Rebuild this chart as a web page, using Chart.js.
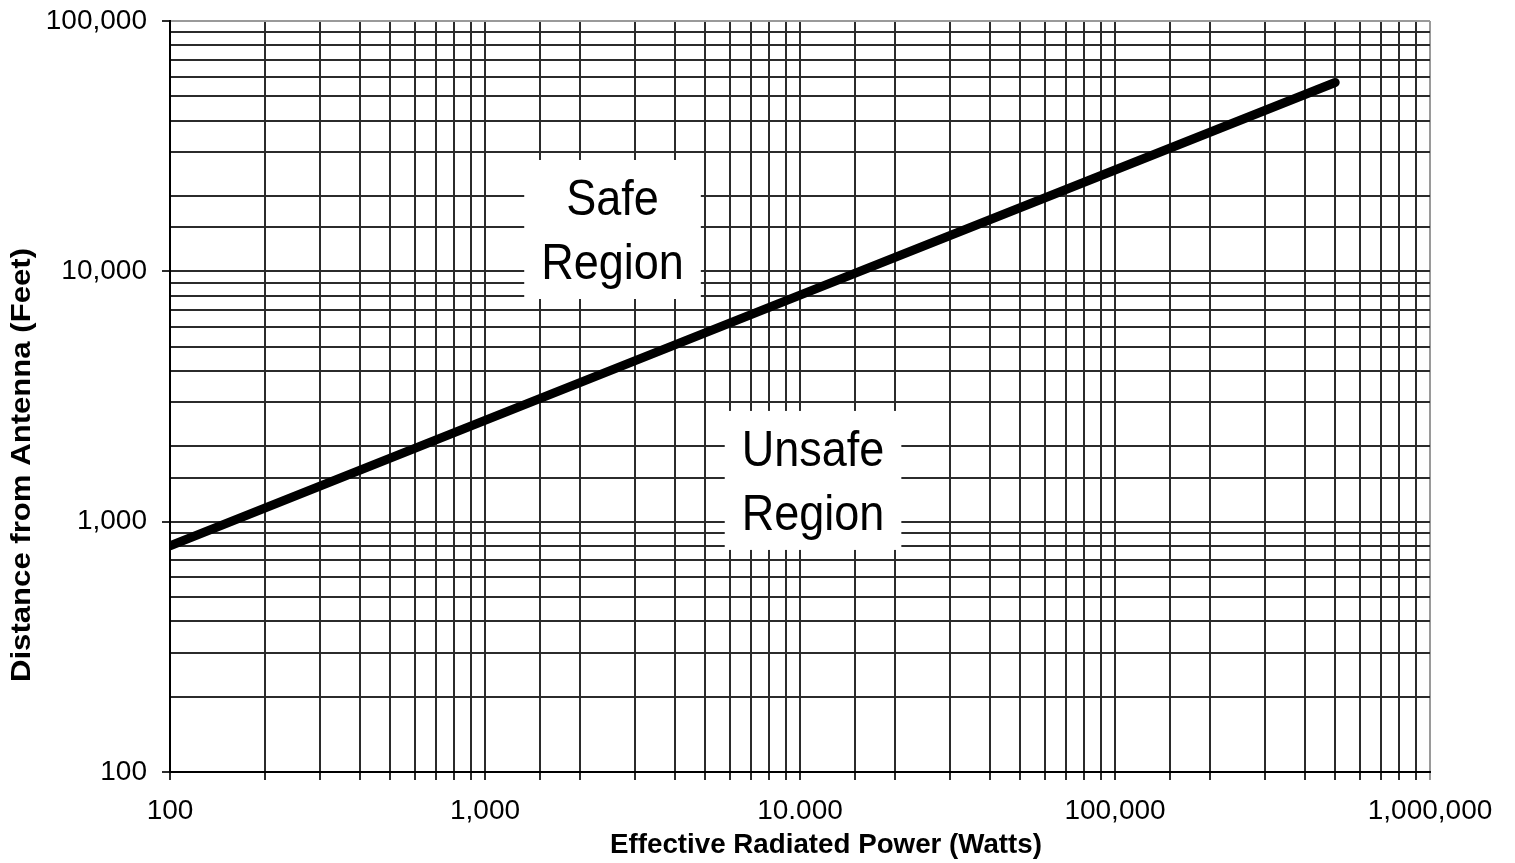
<!DOCTYPE html>
<html>
<head>
<meta charset="utf-8">
<script src="https://cdn.jsdelivr.net/npm/chart.js@4/dist/chart.umd.min.js"></script>
<style>
  body { margin: 0; background: #fff; }
  #wrap { width: 1515px; height: 863px; position: relative; }
</style>
</head>
<body>
<div id="wrap"><canvas id="chart"></canvas></div>
<script>
// values
const powerWatts = [100, 1000, 10000, 100000, 500000];
const distanceFeet = [800, 2540, 8030, 25400, 56800];

const xTickValues = [100, 1000, 10000, 100000, 1000000];
const xTickLabels = ['100', '1,000', '10.000', '100,000', '1,000,000'];
const yTickValues = [100, 1000, 10000, 100000];
const yTickLabels = ['100', '1,000', '10,000', '100,000'];

const regionNames = [['Safe', 'Region'], ['Unsafe', 'Region']];
const regionAnchorX = [2540, 11000];
const regionAnchorY = [14760, 1468];

const xTitle = 'Effective Radiated Power (Watts)';
const yTitle = 'Distance from Antenna (Feet)';

const FONT = "'Liberation Sans', Arial, sans-serif";
const GRID = '#2b2b2b';
const EDGE = '#9a9a9a';

function tickLabel(values, labels) {
    return function(v) {
        const i = values.indexOf(v);
        return i >= 0 ? labels[i] : '';
    };
}

// white boxes with the region text
const regionPlugin = {
    id: 'regions',
    beforeDatasetsDraw(chart) {
        const ctx = chart.ctx;
        const xs = chart.scales.x, ys = chart.scales.y;
        ctx.save();
        ctx.font = '50px ' + FONT;
        const sx = 0.9;
        for (let i = 0; i < regionNames.length; i++) {
            const cx = xs.getPixelForValue(regionAnchorX[i]);
            const cy = ys.getPixelForValue(regionAnchorY[i]);
            const w = Math.max(...regionNames[i].map(t => ctx.measureText(t).width)) * sx + 34;
            ctx.fillStyle = '#fff';
            ctx.fillRect(cx - w / 2, cy - 69, w, 139);
            ctx.fillStyle = '#000';
            ctx.textAlign = 'center';
            ctx.textBaseline = 'alphabetic';
            regionNames[i].forEach((t, j) => {
                ctx.save();
                ctx.translate(cx, cy - 14 + j * 64);
                ctx.scale(sx, 1);
                ctx.fillText(t, 0, 0);
                ctx.restore();
            });
        }
        ctx.restore();
    }
};

// axis titles, squeezed to the width they have in the original
const titlePlugin = {
    id: 'axisTitles',
    afterDraw(chart) {
        const ctx = chart.ctx;
        const a = chart.chartArea;
        ctx.save();
        ctx.font = 'bold 28px ' + FONT;
        ctx.fillStyle = '#000';
        ctx.textAlign = 'center';
        ctx.textBaseline = 'middle';
        let w = ctx.measureText(xTitle).width;
        ctx.translate(a.left + 656, a.bottom + 73);
        ctx.scale(432 / w, 1);
        ctx.fillText(xTitle, 0, 0);
        ctx.restore();

        ctx.save();
        ctx.font = 'bold 28px ' + FONT;
        ctx.fillStyle = '#000';
        ctx.textAlign = 'center';
        ctx.textBaseline = 'middle';
        w = ctx.measureText(yTitle).width;
        ctx.translate(22, a.top + 444);
        ctx.rotate(-Math.PI / 2);
        ctx.scale(434 / w, 1);
        ctx.fillText(yTitle, 0, 0);
        ctx.restore();
    }
};

const points = powerWatts.map((p, i) => ({ x: p, y: distanceFeet[i] }));

new Chart(document.getElementById('chart'), {
    type: 'line',
    data: {
        datasets: [{
            data: points,
            borderColor: '#000',
            borderWidth: 9,
            borderCapStyle: 'round',
            pointRadius: 0,
            tension: 0,
            fill: false
        }]
    },
    options: {
        responsive: true,
        maintainAspectRatio: false,
        animation: false,
        layout: { padding: { top: 21, right: 85, left: 0, bottom: 0 } },
        plugins: { legend: { display: false }, tooltip: { enabled: false } },
        scales: {
            x: {
                type: 'logarithmic',
                min: 100,
                max: 1000000,
                afterFit(s) { s.height = 91; s.paddingLeft = 0; s.paddingRight = 0; },
                border: { color: '#000', width: 2 },
                grid: {
                    lineWidth: 2,
                    tickLength: 8,
                    color: c => (c.tick && c.tick.value === 1000000) ? EDGE : GRID,
                    tickColor: c => (c.tick && c.tick.value === 1000000) ? EDGE : GRID
                },
                ticks: {
                    autoSkip: false,
                    maxRotation: 0,
                    padding: 14,
                    color: '#000',
                    font: { family: FONT, size: 28 },
                    callback: tickLabel(xTickValues, xTickLabels)
                }
            },
            y: {
                type: 'logarithmic',
                min: 100,
                max: 100000,
                afterFit(s) { s.width = 170; s.paddingTop = 0; s.paddingBottom = 0; },
                border: { color: '#000', width: 2 },
                grid: {
                    lineWidth: 2,
                    tickLength: 8,
                    color: c => (c.tick && c.tick.value === 100000) ? EDGE : GRID,
                    tickColor: c => (c.tick && yTickValues.includes(c.tick.value)) ? GRID : 'rgba(0,0,0,0)'
                },
                ticks: {
                    autoSkip: false,
                    padding: 15,
                    color: '#000',
                    font: { family: FONT, size: 28 },
                    callback: tickLabel(yTickValues, yTickLabels)
                }
            }
        }
    },
    plugins: [regionPlugin, titlePlugin]
});
</script>
</body>
</html>
